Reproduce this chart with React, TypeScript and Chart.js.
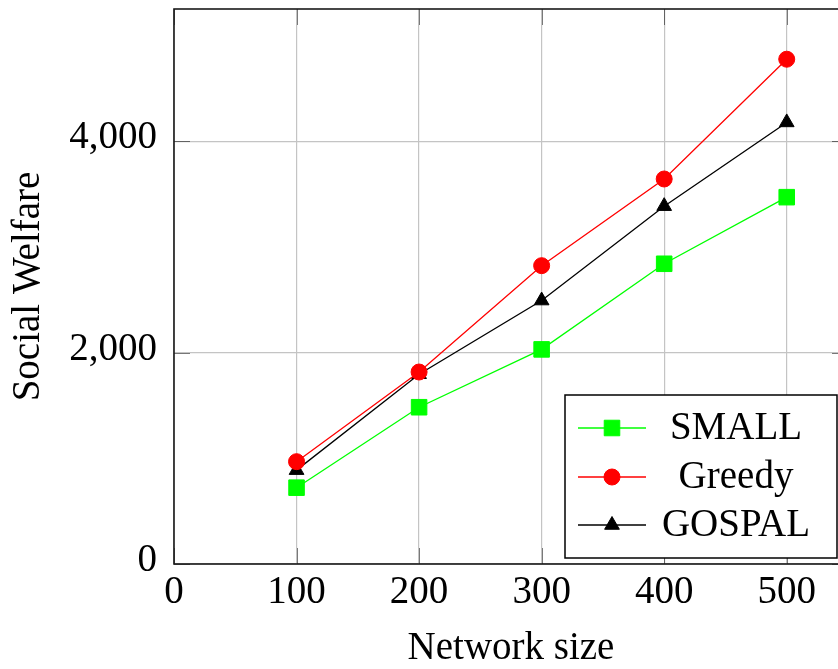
import React, { useEffect, useRef } from "react";
import { Chart, registerables } from "chart.js";

Chart.register(...registerables);

const networkSizes = [100, 200, 300, 400, 500];
const smallValues = [722, 1483, 2030, 2840, 3470];
const greedyValues = [968, 1816, 2822, 3642, 4775];
const gospalValues = [888, 1795, 2492, 3385, 4177];
const xTicks = [0, 100, 200, 300, 400, 500];
const yTicks = [0, 2000, 4000];
const seriesLabels = ["SMALL", "Greedy", "GOSPAL"];

const FONT = "'Liberation Serif', 'Times New Roman', serif";

function drawMarker(ctx: CanvasRenderingContext2D, style: string, x: number, y: number, r: number, color: string) {
  ctx.save();
  ctx.fillStyle = color;
  ctx.strokeStyle = color;
  ctx.lineWidth = 1;
  ctx.beginPath();
  if (style === "rect") {
    const s = Math.SQRT1_2 * r;
    ctx.rect(x - s, y - s, 2 * s, 2 * s);
  } else if (style === "triangle") {
    let a = 0;
    ctx.moveTo(x + Math.sin(a) * r, y - Math.cos(a) * r);
    a += (2 * Math.PI) / 3;
    ctx.lineTo(x + Math.sin(a) * r, y - Math.cos(a) * r);
    a += (2 * Math.PI) / 3;
    ctx.lineTo(x + Math.sin(a) * r, y - Math.cos(a) * r);
    ctx.closePath();
  } else {
    ctx.arc(x, y, r, 0, Math.PI * 2);
  }
  ctx.fill();
  ctx.stroke();
  ctx.restore();
}

const framePlugin = {
  id: "frameTicks",
  beforeDatasetsDraw(chart: any) {
    const { ctx, chartArea } = chart;
    const { left, right, top, bottom } = chartArea;
    const xs = chart.scales.x;
    const ys = chart.scales.y;
    const len = 16;
    ctx.save();
    ctx.strokeStyle = "rgba(0,0,0,0.5)";
    ctx.lineWidth = 1;
    ctx.beginPath();
    xTicks.forEach((v) => {
      const px = Math.round(xs.getPixelForValue(v)) + 0.5;
      ctx.moveTo(px, bottom);
      ctx.lineTo(px, bottom - len);
      ctx.moveTo(px, top);
      ctx.lineTo(px, top + len);
    });
    yTicks.forEach((v) => {
      const py = Math.round(ys.getPixelForValue(v)) + 0.5;
      ctx.moveTo(left, py);
      ctx.lineTo(left + len, py);
      ctx.moveTo(right, py);
      ctx.lineTo(right - len, py);
    });
    ctx.stroke();
    ctx.strokeStyle = "#1a1a1a";
    ctx.lineWidth = 1.6;
    ctx.strokeRect(left, top, right - left, bottom - top);
    ctx.restore();
  },
};

const legendPlugin = {
  id: "boxLegend",
  afterDraw(chart: any) {
    const { ctx, chartArea } = chart;
    const w = 272;
    const h = 163;
    const bx = chartArea.right - 11 - w;
    const by = chartArea.bottom - 6 - h;
    ctx.save();
    ctx.fillStyle = "#ffffff";
    ctx.fillRect(bx, by, w, h);
    ctx.strokeStyle = "#000";
    ctx.lineWidth = 1.5;
    ctx.strokeRect(bx, by, w, h);
    const rows = [33, 82, 130];
    chart.data.datasets.forEach((ds: any, i: number) => {
      const y = by + rows[i];
      ctx.strokeStyle = ds.borderColor;
      ctx.lineWidth = ds.borderWidth;
      ctx.beginPath();
      ctx.moveTo(bx + 13, y);
      ctx.lineTo(bx + 81, y);
      ctx.stroke();
      drawMarker(ctx, ds.pointStyle, bx + 47, y, ds.pointRadius, ds.borderColor);
      ctx.fillStyle = "#000";
      ctx.font = `39px ${FONT}`;
      ctx.textAlign = "center";
      ctx.textBaseline = "alphabetic";
      ctx.fillText(ds.label, bx + 171, y + 11);
    });
    ctx.restore();
  },
};

export default function App() {
  const canvasRef = useRef<HTMLCanvasElement | null>(null);

  useEffect(() => {
    document.body.style.margin = "0";
    const canvas = canvasRef.current;
    if (!canvas) return;
    const mk = (values: number[]) => networkSizes.map((x, i) => ({ x, y: values[i] }));
    const chart = new Chart(canvas, {
      type: "line",
      data: {
        datasets: [
          {
            label: seriesLabels[0],
            data: mk(smallValues),
            borderColor: "#00ff00",
            backgroundColor: "#00ff00",
            borderWidth: 1.3,
            pointStyle: "rect",
            pointRadius: 11,
            pointBorderWidth: 1,
            pointBackgroundColor: "#00ff00",
            pointBorderColor: "#00ff00",
          },
          {
            label: seriesLabels[1],
            data: mk(greedyValues),
            borderColor: "#ff0000",
            backgroundColor: "#ff0000",
            borderWidth: 1.3,
            pointStyle: "circle",
            pointRadius: 8,
            pointBorderWidth: 1,
            pointBackgroundColor: "#ff0000",
            pointBorderColor: "#ff0000",
          },
          {
            label: seriesLabels[2],
            data: mk(gospalValues),
            borderColor: "#000000",
            backgroundColor: "#000000",
            borderWidth: 1.3,
            pointStyle: "triangle",
            pointRadius: 8.5,
            pointBorderWidth: 1,
            pointBackgroundColor: "#000000",
            pointBorderColor: "#000000",
          },
        ],
      },
      options: {
        responsive: false,
        animation: false,
        layout: { autoPadding: false, padding: { left: 0, top: 9, right: 12, bottom: 0 } },
        plugins: {
          legend: { display: false },
          tooltip: { enabled: false },
        },
        scales: {
          x: {
            type: "linear",
            position: "bottom",
            min: 0,
            max: 550,
            afterFit: (s: any) => {
              s.height = 105;
              s.paddingLeft = 0;
              s.paddingRight = 0;
            },
            afterBuildTicks: (s: any) => {
              s.ticks = xTicks.map((v) => ({ value: v }));
            },
            ticks: {
              stepSize: 100,
              color: "#000",
              padding: 5,
              font: { family: FONT, size: 39 },
              maxRotation: 0,
            },
            grid: { color: "#c4c4c4", lineWidth: 1.2, drawTicks: false },
            border: { display: false },
            title: {
              display: true,
              text: "Network size",
              color: "#000",
              font: { family: FONT, size: 39, lineHeight: 1.05 },
              padding: { top: 0, bottom: 0 },
            },
          },
          y: {
            type: "linear",
            position: "left",
            min: 0,
            max: 5250,
            afterFit: (s: any) => {
              s.width = 174;
              s.paddingTop = 0;
              s.paddingBottom = 0;
            },
            afterBuildTicks: (s: any) => {
              s.ticks = yTicks.map((v) => ({ value: v }));
            },
            ticks: {
              stepSize: 2000,
              color: "#000",
              padding: 17,
              labelOffset: -3,
              font: { family: FONT, size: 39 },
              callback: (v: any) => Number(v).toLocaleString("en-US"),
            },
            grid: { color: "#c4c4c4", lineWidth: 1.2, drawTicks: false },
            border: { display: false },
            title: {
              display: true,
              text: "Social Welfare",
              color: "#000",
              font: { family: FONT, size: 39, lineHeight: 1.2 },
              padding: { top: 5, bottom: 0 },
            },
          },
        },
      },
      plugins: [framePlugin, legendPlugin],
    } as any);
    return () => chart.destroy();
  }, []);

  return (
    <div style={{ position: "relative", width: 838, height: 669, overflow: "hidden" }}>
      <canvas ref={canvasRef} width={860} height={669} style={{ display: "block", width: 860, height: 669 }} />
    </div>
  );
}
